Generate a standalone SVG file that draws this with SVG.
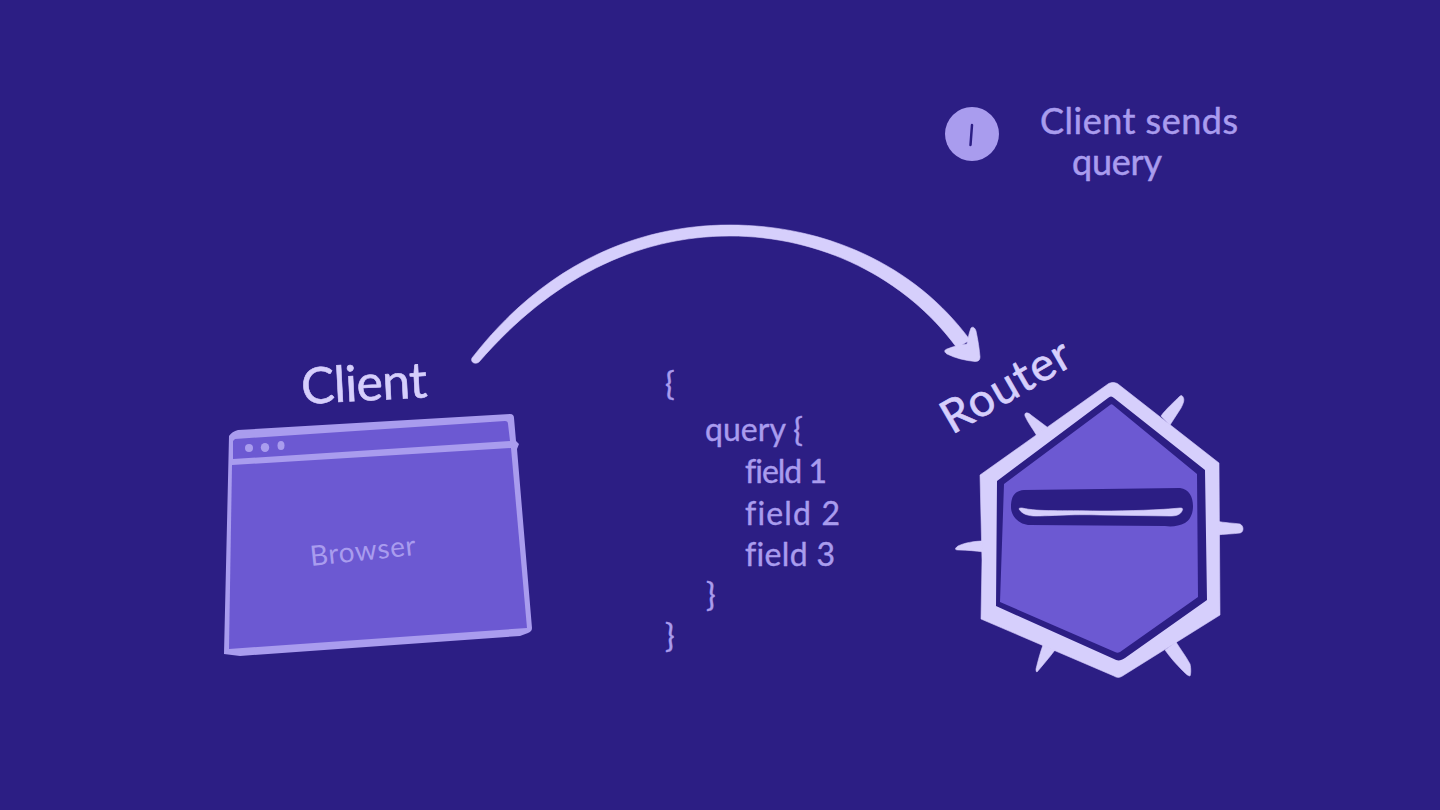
<svg xmlns="http://www.w3.org/2000/svg" width="1440" height="810" viewBox="0 0 1440 810">
<style>
text{font-family:"Lato","Noto Sans",sans-serif;font-weight:400;font-variant-ligatures:none;}
.pale{fill:#D6CFFC;stroke:#D6CFFC;stroke-width:.6}
.mid{fill:#A99CEE}
.fill{fill:#6C59D2}
.dark{fill:#2C1E84}
.code{font-size:32px;fill:#A99CEE;stroke:#A99CEE;stroke-width:.4}
.note{font-size:36px;fill:#A99CEE;stroke:#A99CEE;stroke-width:.5}
</style>
<rect width="1440" height="810" class="dark"/>
<g id="connectors">
<path class="pale" stroke="none" d="M472 358C540 270 630 225 730 225C825 225 915 265 970 340L957 348C905 277 820 236 730 236C635 236 550 280 479 362C475 365 470 362 472 358Z"/>
<path class="pale" d="M971 328C973 326 975 328 976 331C978 340 979.500 350 980 357C980 360 978.500 361.500 975 361.500C965 360.500 955 358 947 354C944 352 944 350 947 349C954 346 961 345 967 344C968 338 969 333 971 328Z"/>
</g>
<g id="client">
<path class="mid" d="M238 430L510 414C513 414 514 416 514 418L516 441L519 444L517 449L532 628C532 631 530 632 528 633L520 636L240 656L224 654L229 436C231 433 234 431 238 430Z"/>
<path class="fill" d="M235 439L505 421C507 421 508 422 508 424L510 441L233 459L233 441Z"/>
<path class="fill" d="M232 465L511 448L527 628L229 649Z"/>
<ellipse class="mid" cx="249" cy="448" rx="4" ry="4"/>
<ellipse class="mid" cx="265" cy="447.500" rx="4.200" ry="4.600"/>
<ellipse class="mid" cx="281" cy="445.500" rx="3.500" ry="4.500"/>
<text transform="translate(302 404) rotate(-3)" font-size="50" textLength="126" lengthAdjust="spacing" class="pale">Client</text>
<text transform="translate(311 566) rotate(-6)" font-size="28" textLength="106" lengthAdjust="spacing" class="mid">Browser</text>
</g>
<g id="router">
<path class="pale" d="M1025 416C1024 412 1028 412 1031 415L1047 427L1047 436L1037 436C1033 429 1028 423 1025 416Z"/>
<path class="pale" d="M1183 397C1185 400 1183 404 1181 408L1170 425L1161 416C1166 409 1175 401 1179 397C1181 395 1182 395 1183 397Z"/>
<path class="pale" d="M1216 521C1225 523 1234 523 1240 524C1244 526 1244 532 1240 533C1233 534 1225 534 1216 535Z"/>
<path class="pale" d="M984 541C974 541 964 543 958 546C954 549 955 550 959 550C967 550 976 551 984 552Z"/>
<path class="pale" d="M1043 645L1055 650C1049 658 1042 666 1037 672C1036 672 1036 670 1036 669C1038 661 1040 653 1043 645Z"/>
<path class="pale" d="M1165 650L1176 642C1181 650 1187 658 1190 664C1191 668 1191 674 1190 676C1188 676 1185 673 1182 670C1176 664 1170 657 1165 650Z"/>
<path class="pale" d="M1108 384C1111 382 1115 382 1118 384L1219 463L1220 615L1124 675C1120 678 1117 678 1114 676L981 619L982 560L980 475Z"/>
<path class="dark" d="M1108 398C1110 396 1112 396 1114 398L1205 470L1207 600L1125 658C1121 661 1117 661 1114 659L996 606L997 481Z"/>
<path class="fill" d="M1110 405C1111 404 1112 404 1113 405L1197 474L1198 597L1120 652C1118 653 1117 653 1115 652L1000 602L1004 484Z"/>
<path class="dark" d="M1024 490L1180 488C1189 489 1193 497 1193 506C1193 514 1190 520 1185 523C1179 526 1172 527 1165 526L1030 525C1020 525 1011 517 1011 507C1011 497 1014 491 1024 490Z"/>
<path class="pale" d="M1019 509C1019 508 1020 508 1022 508C1040 512 1060 510 1100 511C1130 511 1160 510 1180 508C1183 508 1183 509 1182 511C1180 515 1176 516 1170 516L1100 515C1070 514 1050 516 1036 516C1028 516 1022 514 1019 509Z"/>
<text transform="translate(952 435) rotate(-30)" font-size="46" textLength="142" lengthAdjust="spacing" class="pale">Router</text>
</g>
<g id="step-1">
<circle class="mid" cx="972" cy="134" r="27"/>
<path d="M972 125L970.500 145" fill="none" stroke="#2C1E84" stroke-width="2.500" stroke-linecap="round"/>
<text x="1040" y="134" textLength="198" lengthAdjust="spacing" class="note">Client sends</text>
<text x="1072" y="175" textLength="90" lengthAdjust="spacing" class="note">query</text>
</g>
<g id="query">
<text x="665" y="395" class="code">{</text>
<text x="705" y="441" class="code" textLength="98" lengthAdjust="spacing">query {</text>
<text x="745" y="483" class="code" textLength="82" lengthAdjust="spacing">field 1</text>
<text x="745" y="525" class="code" textLength="95" lengthAdjust="spacing">field 2</text>
<text x="745" y="566" class="code" textLength="90" lengthAdjust="spacing">field 3</text>
<text x="706" y="606" class="code">}</text>
<text x="665" y="647" class="code">}</text>
</g>
</svg>
